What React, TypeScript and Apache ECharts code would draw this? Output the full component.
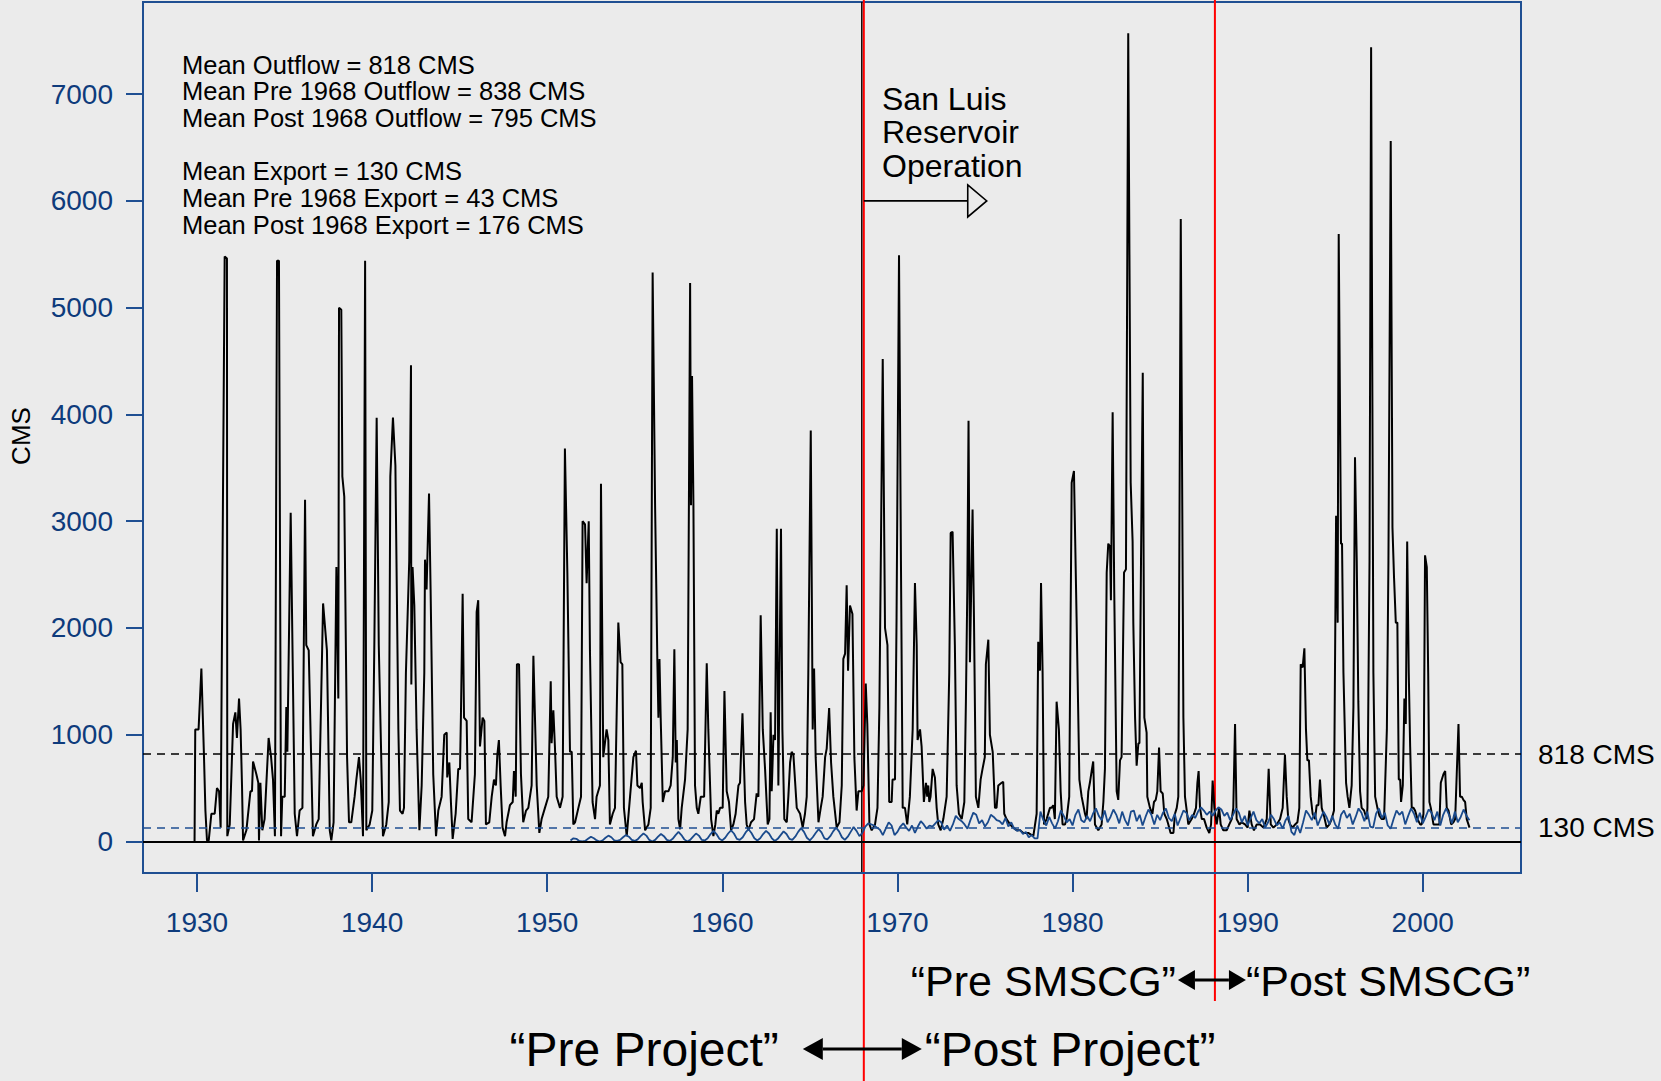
import React, { useEffect, useRef } from "react";
import * as echarts from "echarts";

const FONT = '"Liberation Sans", Arial, Helvetica, sans-serif';
const BLUE = "#1f4f92";
const LABEL_BLUE = "#0e3b7c";
const EXPORT_BLUE = "#1a4a8c";
const BG = "#ebebeb";

const yearTicks = [1930, 1940, 1950, 1960, 1970, 1980, 1990, 2000];
const cmsTicks = [0, 1000, 2000, 3000, 4000, 5000, 6000, 7000];

const meanOutflow = 818;
const meanExport = 130;
const projectBoundary = 1968.08;
const smscgBoundary = 1988.13;
const sanLuisArrowEnd = 1975.1;
const sanLuisArrowLevel = 6000;

const statsLines = [
  "Mean Outflow = 818 CMS",
  "Mean Pre 1968 Outflow = 838 CMS",
  "Mean Post 1968 Outflow = 795 CMS",
  "",
  "Mean Export = 130 CMS",
  "Mean Pre 1968 Export = 43 CMS",
  "Mean Post 1968 Export = 176 CMS",
];
const sanLuisLines = ["San Luis", "Reservoir", "Operation"];

// Delta outflow (CMS), [year, value]
const outflow: [number, number][] = [
  [1929.86, 0], [1929.9, 1050], [1930.09, 1050], [1930.25, 1620], [1930.4, 790], [1930.48, 290], [1930.57, 10], [1930.67, 10], [1930.82, 260], [1931.01, 260], [1931.14, 500], [1931.26, 470], [1931.35, 130], [1931.58, 5480], [1931.71, 5460], [1931.73, 50], [1931.87, 160],
  [1932.06, 1100], [1932.19, 1210], [1932.28, 970], [1932.4, 1340], [1932.49, 1050], [1932.57, 525], [1932.63, 10], [1932.82, 105], [1933.05, 470], [1933.14, 470], [1933.2, 750], [1933.39, 630], [1933.5, 550], [1933.54, 10], [1933.62, 550], [1933.73, 105], [1933.86, 210],
  [1934.09, 970], [1934.23, 790], [1934.34, 580], [1934.45, 50], [1934.57, 5440], [1934.68, 5440], [1934.8, 50], [1934.87, 420], [1935.01, 420], [1935.1, 1260], [1935.16, 840], [1935.35, 3080], [1935.58, 260], [1935.71, 50], [1935.86, 290],
  [1936.02, 315], [1936.17, 3200], [1936.24, 1840], [1936.38, 1790], [1936.62, 50], [1936.81, 160], [1936.95, 210], [1937.2, 2230], [1937.42, 1790], [1937.58, 105], [1937.67, 10], [1937.8, 180], [1937.96, 2570],
  [1938.07, 1340], [1938.11, 5000], [1938.24, 4980], [1938.3, 3420], [1938.41, 3230], [1938.57, 790], [1938.68, 180], [1938.81, 180], [1939.0, 420], [1939.1, 580], [1939.25, 790], [1939.35, 580], [1939.48, 50], [1939.6, 5440], [1939.67, 105], [1939.86, 160],
  [1940.01, 290], [1940.13, 1890], [1940.26, 3970], [1940.38, 1840], [1940.62, 50], [1940.81, 160], [1940.95, 370], [1941.04, 3420], [1941.19, 3970], [1941.33, 3520], [1941.5, 1050], [1941.59, 290], [1941.74, 260], [1941.82, 315], [1941.93, 1580],
  [1942.12, 2630], [1942.22, 4460], [1942.24, 1470], [1942.31, 2570], [1942.41, 2210], [1942.54, 1050], [1942.7, 105], [1942.83, 525], [1942.98, 1580], [1943.02, 2640], [1943.11, 2360], [1943.25, 3260], [1943.34, 2360], [1943.49, 630], [1943.65, 50], [1943.78, 290], [1943.97, 420],
  [1944.12, 1000], [1944.26, 1020], [1944.29, 600], [1944.41, 740], [1944.5, 370], [1944.6, 25], [1944.77, 260], [1944.92, 680], [1945.02, 680], [1945.07, 1160], [1945.17, 2320], [1945.25, 1160], [1945.4, 1130], [1945.49, 210], [1945.68, 180], [1945.87, 630], [1945.97, 2150],
  [1946.06, 2260], [1946.16, 890], [1946.31, 1160], [1946.41, 1130], [1946.5, 160], [1946.69, 180], [1946.83, 420], [1946.96, 580], [1947.07, 525], [1947.15, 810], [1947.24, 950], [1947.34, 525], [1947.45, 130], [1947.59, 50], [1947.68, 180], [1947.87, 340],
  [1948.03, 370], [1948.1, 660], [1948.2, 420], [1948.27, 1660], [1948.39, 1660], [1948.5, 630], [1948.63, 180], [1948.79, 290], [1948.92, 315], [1949.11, 525], [1949.21, 1740], [1949.4, 525], [1949.55, 80], [1949.68, 210], [1949.87, 315],
  [1950.06, 420], [1950.2, 1500], [1950.25, 920], [1950.35, 1230], [1950.44, 890], [1950.54, 420], [1950.73, 315], [1950.88, 420], [1951.01, 3680], [1951.15, 2520], [1951.3, 840], [1951.4, 840], [1951.49, 160], [1951.59, 180], [1951.78, 315], [1951.93, 420],
  [1952.02, 3000], [1952.16, 2970], [1952.25, 2420], [1952.37, 3000], [1952.44, 1790], [1952.59, 370], [1952.73, 210], [1952.82, 420], [1953.01, 525], [1953.07, 3350], [1953.2, 790], [1953.39, 1050], [1953.49, 950], [1953.58, 160], [1953.74, 260], [1953.87, 315],
  [1954.06, 2050], [1954.19, 1680], [1954.29, 1660], [1954.38, 315], [1954.54, 50], [1954.73, 420], [1954.92, 790], [1955.07, 850], [1955.15, 525], [1955.3, 500], [1955.4, 550], [1955.45, 370], [1955.59, 105], [1955.78, 160], [1955.91, 315],
  [1956.02, 5330], [1956.16, 3150], [1956.29, 1680], [1956.35, 1160], [1956.41, 1710], [1956.48, 1160], [1956.6, 370], [1956.73, 470], [1956.92, 470], [1957.05, 525], [1957.17, 790], [1957.26, 1800], [1957.34, 740], [1957.4, 950], [1957.49, 210], [1957.59, 115], [1957.68, 315], [1957.87, 580],
  [1958.02, 1050], [1958.16, 5230], [1958.21, 3150], [1958.27, 4360], [1958.35, 3150], [1958.44, 525], [1958.54, 315], [1958.63, 260], [1958.77, 420], [1958.96, 420], [1959.11, 1670], [1959.2, 1050], [1959.36, 210], [1959.49, 50], [1959.6, 160], [1959.68, 290], [1959.77, 260], [1959.87, 315],
  [1960.02, 315], [1960.12, 1410], [1960.25, 470], [1960.38, 370], [1960.5, 105], [1960.63, 160], [1960.76, 260], [1960.92, 525], [1961.01, 550], [1961.15, 1200], [1961.3, 370], [1961.39, 160], [1961.49, 105], [1961.64, 180], [1961.81, 210], [1961.96, 450],
  [1962.06, 420], [1962.19, 2120], [1962.31, 1050], [1962.44, 680], [1962.59, 160], [1962.69, 210], [1962.76, 1210], [1962.82, 470], [1962.92, 1000], [1963.01, 950], [1963.11, 2930], [1963.2, 525], [1963.35, 2930], [1963.43, 1050], [1963.54, 210], [1963.68, 180], [1963.77, 420], [1963.87, 740], [1963.96, 840],
  [1964.06, 810], [1964.25, 315], [1964.44, 260], [1964.59, 130], [1964.72, 260], [1964.82, 420], [1964.91, 1580], [1965.05, 3850], [1965.16, 1050], [1965.24, 1620], [1965.33, 790], [1965.49, 180], [1965.62, 315], [1965.73, 420], [1965.87, 790], [1965.96, 870],
  [1966.1, 1250], [1966.21, 740], [1966.34, 420], [1966.53, 130], [1966.69, 180], [1966.82, 525], [1966.91, 1710], [1967.01, 1760], [1967.1, 2400], [1967.18, 1600], [1967.29, 2210], [1967.43, 2130], [1967.54, 790], [1967.67, 290], [1967.77, 470], [1967.96, 470],
  [1968.06, 525], [1968.19, 1480], [1968.28, 1100], [1968.4, 160], [1968.53, 105], [1968.72, 160], [1968.86, 315], [1968.97, 1260], [1969.16, 4520], [1969.29, 2000], [1969.43, 1840], [1969.53, 370], [1969.67, 370], [1969.72, 580], [1969.86, 580], [1969.95, 2100],
  [1970.09, 5490], [1970.2, 2630], [1970.3, 315], [1970.43, 315], [1970.56, 160], [1970.71, 420], [1970.87, 1050], [1971.0, 2420], [1971.1, 1840], [1971.15, 950], [1971.29, 1050], [1971.38, 890], [1971.51, 370], [1971.63, 550], [1971.7, 420], [1971.76, 525], [1971.82, 370], [1971.89, 420],
  [1972.01, 680], [1972.14, 600], [1972.24, 315], [1972.33, 160], [1972.47, 105], [1972.62, 210], [1972.81, 420], [1972.96, 1580], [1973.04, 2890], [1973.15, 2900], [1973.28, 1840], [1973.38, 525], [1973.51, 260], [1973.67, 210], [1973.82, 370], [1973.91, 1310], [1973.99, 2360],
  [1974.06, 3940], [1974.14, 1680], [1974.24, 2630], [1974.29, 3110], [1974.37, 2100], [1974.48, 420], [1974.62, 315], [1974.75, 580], [1974.86, 680], [1974.99, 790], [1975.05, 1660], [1975.19, 1890], [1975.28, 1000], [1975.44, 840], [1975.57, 315], [1975.66, 315], [1975.76, 525], [1975.95, 550],
  [1976.04, 560], [1976.1, 260], [1976.23, 210], [1976.43, 160], [1976.62, 130], [1976.81, 105], [1977.0, 105], [1977.19, 80], [1977.47, 80], [1977.76, 50], [1977.95, 260],
  [1978.04, 1870], [1978.14, 1600], [1978.2, 2420], [1978.29, 1580], [1978.37, 160], [1978.52, 210], [1978.71, 315], [1978.8, 315], [1978.9, 340], [1978.99, 210], [1979.09, 1310], [1979.22, 1050], [1979.32, 470], [1979.43, 160], [1979.57, 160], [1979.66, 210], [1979.81, 420], [1979.95, 3360],
  [1980.08, 3470], [1980.23, 2100], [1980.39, 580], [1980.52, 420], [1980.71, 260], [1980.8, 210], [1980.9, 470], [1980.99, 550], [1981.09, 660], [1981.18, 750], [1981.28, 160], [1981.47, 105], [1981.66, 160], [1981.76, 370], [1981.85, 680], [1981.95, 2520],
  [1982.04, 2790], [1982.14, 2760], [1982.19, 2260], [1982.29, 4020], [1982.38, 2360], [1982.52, 470], [1982.61, 390], [1982.71, 760], [1982.8, 790], [1982.94, 2520], [1983.05, 2550], [1983.18, 7570], [1983.32, 3360], [1983.43, 2810], [1983.47, 2050], [1983.57, 1160], [1983.66, 710], [1983.76, 920], [1983.82, 920], [1983.91, 2630],
  [1984.01, 4390], [1984.1, 1160], [1984.23, 1020], [1984.27, 420], [1984.42, 315], [1984.56, 260], [1984.65, 370], [1984.75, 390], [1984.84, 470], [1984.94, 880], [1985.03, 470], [1985.15, 450], [1985.24, 260], [1985.38, 210], [1985.47, 160], [1985.6, 80], [1985.76, 80], [1985.85, 260], [1985.95, 315],
  [1986.04, 420], [1986.18, 5830], [1986.33, 1160], [1986.42, 420], [1986.52, 290], [1986.61, 160], [1986.8, 210], [1986.94, 260], [1987.05, 315], [1987.13, 550], [1987.2, 660], [1987.28, 315], [1987.38, 210], [1987.51, 210], [1987.66, 130], [1987.81, 80], [1987.91, 160],
  [1988.0, 570], [1988.1, 315], [1988.23, 160], [1988.37, 315], [1988.46, 160], [1988.61, 105], [1988.8, 105], [1988.95, 160], [1989.09, 210], [1989.18, 315], [1989.28, 1100], [1989.37, 210], [1989.53, 160], [1989.66, 180], [1989.85, 160],
  [1990.0, 130], [1990.1, 290], [1990.23, 160], [1990.36, 105], [1990.52, 160], [1990.71, 160], [1990.9, 130], [1991.09, 210], [1991.2, 680], [1991.32, 160], [1991.47, 130], [1991.66, 160], [1991.85, 210],
  [1992.0, 315], [1992.13, 815], [1992.23, 420], [1992.32, 210], [1992.42, 160], [1992.57, 130], [1992.71, 160], [1992.84, 180], [1992.95, 315], [1993.03, 1660], [1993.14, 1630], [1993.24, 1810], [1993.33, 1050], [1993.41, 760], [1993.5, 760], [1993.6, 420], [1993.71, 260], [1993.85, 210], [1993.94, 340],
  [1994.04, 340], [1994.13, 580], [1994.23, 315], [1994.36, 240], [1994.51, 130], [1994.67, 160], [1994.8, 210], [1994.93, 290], [1995.05, 3050], [1995.14, 2050], [1995.2, 5690], [1995.33, 2790], [1995.39, 2790], [1995.47, 1580], [1995.62, 550], [1995.71, 420], [1995.81, 315], [1995.94, 525],
  [1996.04, 1260], [1996.13, 3600], [1996.23, 2630], [1996.32, 1310], [1996.42, 470], [1996.51, 315], [1996.65, 290], [1996.8, 210], [1996.84, 315], [1996.96, 2630], [1997.05, 7440], [1997.18, 1580], [1997.28, 420], [1997.41, 315], [1997.53, 240], [1997.66, 210], [1997.79, 210], [1997.95, 1050],
  [1998.04, 2630], [1998.17, 6560], [1998.27, 2940], [1998.36, 2470], [1998.46, 2050], [1998.55, 2050], [1998.63, 580], [1998.71, 580], [1998.76, 370], [1998.86, 525], [1998.95, 1340], [1999.03, 1100], [1999.11, 2810], [1999.2, 1580], [1999.28, 890], [1999.37, 315], [1999.47, 315], [1999.56, 290], [1999.7, 210], [1999.85, 160], [1999.94, 160],
  [2000.04, 260], [2000.13, 2680], [2000.23, 2570], [2000.31, 1580], [2000.38, 370], [2000.46, 315], [2000.61, 160], [2000.8, 160], [2000.95, 160], [2001.03, 550], [2001.18, 630], [2001.28, 660], [2001.37, 315], [2001.47, 290], [2001.62, 160], [2001.75, 180], [2001.85, 210], [2001.94, 630],
  [2002.04, 1100], [2002.13, 420], [2002.23, 420], [2002.32, 390], [2002.42, 370], [2002.51, 210], [2002.67, 130],
];

// Delta exports (CMS), two-monthly readings
const exportStep = 1 / 6;
const exportPreStart = 1951.33;
const exportPre = [
  10, 30, 25, 5,
  0, 5, 25, 45, 30, 10,
  0, 10, 35, 55, 40, 10,
  5, 15, 40, 60, 45, 15,
  5, 20, 50, 75, 55, 15,
  0, 15, 45, 70, 50, 15,
  5, 25, 60, 90, 60, 20,
  0, 15, 45, 75, 55, 15,
  10, 30, 70, 100, 70, 25,
  10, 35, 75, 105, 75, 25,
  15, 40, 85, 115, 80, 30,
  10, 30, 70, 100, 75, 30,
  5, 25, 60, 95, 70, 25,
  15, 45, 90, 125, 90, 35,
  10, 40, 80, 115, 85, 30,
  20, 50, 95, 130, 95, 40,
  15, 45, 90, 135, 100, 50,
];
const exportPostStart = 1968.0;
const exportPost = [
  80, 140, 170, 160, 150, 130,
  110, 60, 120, 180, 150, 60,
  90, 140, 170, 130, 100, 150,
  80, 140, 190, 160, 120, 150,
  140, 170, 200, 180, 110, 150,
  100, 160, 240, 210, 190, 160,
  120, 200, 270, 250, 170, 200,
  140, 180, 250, 230, 200, 190,
  160, 220, 140, 180, 120, 100,
  110, 70, 90, 40, 60, 30,
  30, 280, 200, 150, 230, 170,
  120, 190, 290, 240, 180, 210,
  150, 250, 300, 200, 180, 240,
  190, 260, 310, 240, 200, 290,
  180, 230, 300, 250, 170, 280,
  200, 150, 280, 290, 190, 250,
  150, 230, 300, 250, 160, 250,
  200, 270, 310, 220, 190, 260,
  150, 220, 290, 270, 200, 250,
  220, 280, 320, 290, 250, 280,
  240, 290, 320, 300, 240, 270,
  200, 250, 310, 270, 180, 240,
  150, 220, 280, 200, 170, 210,
  130, 180, 250, 210, 150, 180,
  120, 200, 240, 90, 60, 150,
  80, 180, 290, 250, 200, 270,
  150, 220, 280, 230, 160, 240,
  160, 120, 250, 290, 220, 260,
  160, 230, 310, 270, 190, 280,
  140, 130, 260, 310, 220, 270,
  150, 120, 210, 290, 250, 280,
  160, 240, 310, 260, 180, 270,
  170, 230, 300, 270, 200, 280,
  150, 250, 310, 250, 170, 280,
  180, 230, 300, 240, 200,
];

export default function App() {
  const ref = useRef<HTMLDivElement>(null);

  useEffect(() => {
    document.body.style.margin = "0";
    document.body.style.background = BG;
    const chart = echarts.init(ref.current!, null, { renderer: "svg" });

    const exportData: [number, number][] = [
      ...exportPre.map((v, i) => [exportPreStart + i * exportStep, v] as [number, number]),
      ...exportPost.map((v, i) => [exportPostStart + i * exportStep, v] as [number, number]),
    ];

    const refLabel = (txt: string) => ({
      show: true,
      position: "end",
      formatter: txt,
      distance: 17,
      fontSize: 28,
      color: "#000",
      fontFamily: FONT,
      padding: [6, 0, 0, 0],
    });

    chart.setOption({
      animation: false,
      backgroundColor: BG,
      textStyle: { fontFamily: FONT },
      grid: {
        left: 143,
        top: 2,
        width: 1378,
        height: 871,
        show: true,
        borderColor: BLUE,
        borderWidth: 2,
        backgroundColor: "transparent",
      },
      xAxis: {
        type: "value",
        min: 1926.916,
        max: 2005.61,
        splitLine: { show: false },
        axisLine: { show: true, onZero: false, lineStyle: { color: BLUE, width: 2 } },
        axisTick: { show: true, customValues: yearTicks, length: 19, lineStyle: { color: BLUE, width: 2 } },
        axisLabel: {
          customValues: yearTicks,
          formatter: (v: number) => String(v),
          color: LABEL_BLUE,
          fontSize: 28,
          fontFamily: FONT,
          margin: 35,
        },
      },
      yAxis: {
        type: "value",
        min: -295,
        max: 7863,
        splitLine: { show: false },
        axisLine: { show: true, onZero: false, lineStyle: { color: BLUE, width: 2 } },
        axisTick: { show: true, customValues: cmsTicks, length: 17, lineStyle: { color: BLUE, width: 2 } },
        axisLabel: {
          customValues: cmsTicks,
          formatter: (v: number) => String(v),
          color: LABEL_BLUE,
          fontSize: 28,
          fontFamily: FONT,
          margin: 30,
          padding: [6, 0, 0, 0],
        },
      },
      series: [
        {
          name: "Outflow",
          type: "line",
          data: outflow,
          showSymbol: false,
          symbol: "none",
          lineStyle: { color: "#000", width: 2 },
          markLine: {
            silent: true,
            symbol: ["none", "none"],
            data: [
              { yAxis: 0, lineStyle: { color: "#000", type: "solid", width: 2 }, label: { show: false } },
              { yAxis: meanOutflow, lineStyle: { color: "#000", type: [8, 6], width: 1.6 }, label: refLabel(`${meanOutflow} CMS`) },
            ],
          },
        },
        {
          name: "Export",
          type: "line",
          data: exportData,
          showSymbol: false,
          symbol: "none",
          lineStyle: { color: EXPORT_BLUE, width: 1.8 },
          markLine: {
            silent: true,
            symbol: ["none", "none"],
            data: [
              { yAxis: meanExport, lineStyle: { color: BLUE, type: [8, 6], width: 1.6 }, label: refLabel(`${meanExport} CMS`) },
            ],
          },
        },
      ],
    });

    const px = (x: number, y: number) => chart.convertToPixel({ gridIndex: 0 }, [x, y]) as number[];
    const [x68] = px(projectBoundary, 0);
    const [x88] = px(smscgBoundary, 0);
    const [ax1, ay] = px(projectBoundary, sanLuisArrowLevel);
    const [ax2] = px(sanLuisArrowEnd, sanLuisArrowLevel);

    const text = (t: string, x: number, y: number, size: number, align: string, extra: any = {}) => ({
      type: "text",
      x,
      y,
      silent: true,
      ...extra,
      style: {
        text: t,
        fill: "#000",
        fontSize: size,
        fontFamily: FONT,
        lineHeight: size,
        align,
        verticalAlign: "middle",
        textAlign: align,
        textVerticalAlign: "middle",
      },
    });

    const dblArrow = (cx: number, cy: number, half: number, head: number, hh: number) => [
      { type: "line", silent: true, shape: { x1: cx - half + head, y1: cy, x2: cx + half - head, y2: cy }, style: { stroke: "#000", lineWidth: 3 } },
      { type: "polygon", silent: true, shape: { points: [[cx - half, cy], [cx - half + head, cy - hh], [cx - half + head, cy + hh]] }, style: { fill: "#000" } },
      { type: "polygon", silent: true, shape: { points: [[cx + half, cy], [cx + half - head, cy - hh], [cx + half - head, cy + hh]] }, style: { fill: "#000" } },
    ];

    const statsY = [64.6, 91.1, 117.6, 144, 170.5, 198.1, 224.6];
    const sanLuisY = [98.5, 132.4, 166.3];

    const graphics: any[] = [
      { type: "line", silent: true, shape: { x1: x68 - 2, y1: 2, x2: x68 - 2, y2: 873 }, style: { stroke: "#000", lineWidth: 1.5 } },
      { type: "line", silent: true, shape: { x1: x68, y1: 0, x2: x68, y2: 1081 }, style: { stroke: "#ff0000", lineWidth: 2 } },
      { type: "line", silent: true, shape: { x1: x88, y1: 0, x2: x88, y2: 1001 }, style: { stroke: "#ff0000", lineWidth: 2 } },
      { type: "line", silent: true, shape: { x1: ax1, y1: ay, x2: ax2 - 19, y2: ay }, style: { stroke: "#000", lineWidth: 1.6 } },
      { type: "polygon", silent: true, shape: { points: [[ax2 - 19, ay - 16], [ax2, ay], [ax2 - 19, ay + 16]] }, style: { fill: BG, stroke: "#000", lineWidth: 1.6 } },
      ...statsLines
        .map((l, i) => ({ l, i }))
        .filter((o) => o.l)
        .map((o) => text(o.l, 182, statsY[o.i], 25.5, "left")),
      ...sanLuisLines.map((l, i) => text(l, 882, sanLuisY[i], 32, "left")),
      text("CMS", 21, 436, 26, "center", { rotation: Math.PI / 2 }),
      text("\u201CPre SMSCG\u201D", x88 - 39, 981, 43, "right"),
      text("\u201CPost SMSCG\u201D", x88 + 31, 981, 43, "left"),
      text("\u201CPre Project\u201D", x68 - 85, 1049, 48, "right"),
      text("\u201CPost Project\u201D", x68 + 61, 1049, 48, "left"),
      ...dblArrow(x68 - 1.5, 1049, 59.5, 20, 11),
      ...dblArrow(x88 - 3, 980, 34, 17, 10),
    ];

    chart.setOption({ graphic: graphics });

    return () => chart.dispose();
  }, []);

  return (
    <div
      ref={ref}
      style={{ position: "absolute", left: 0, top: 0, width: 1661, height: 1081, background: BG }}
    />
  );
}
